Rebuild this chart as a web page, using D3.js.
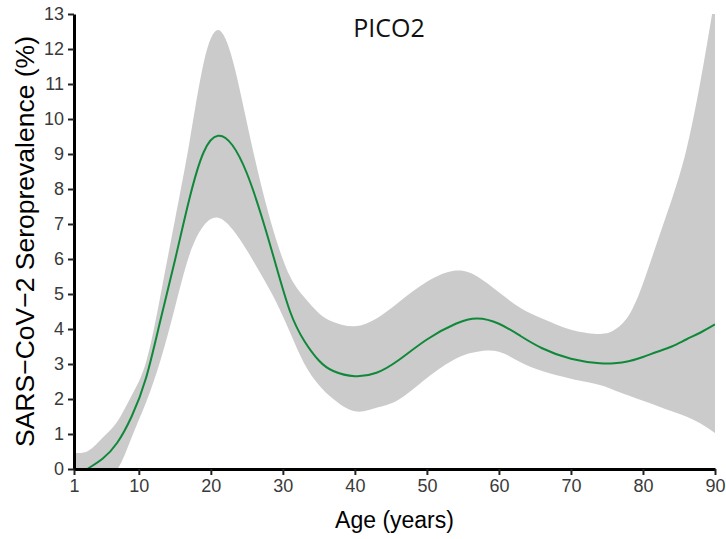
<!DOCTYPE html>
<html><head><meta charset="utf-8">
<script src="https://cdn.jsdelivr.net/npm/d3@7"></script>
<style>body{margin:0;background:#fff}</style>
</head><body>
<script>
const ages   = [1,3,5,7,9,11,13,15,17,19,21,23,25,27,29,31,33,35,37,40,43,46,50,54,57,60,63,66,70,74,76,78,80,82,84,86,88,90];
const meanV  = [-0.25,0.02,0.3,0.75,1.5,2.6,4.25,5.95,7.7,9.05,9.52,9.25,8.45,7.25,5.85,4.5,3.65,3.1,2.8,2.65,2.75,3.1,3.7,4.15,4.3,4.15,3.8,3.45,3.15,3.02,3.02,3.08,3.2,3.35,3.5,3.7,3.9,4.13];
const upperV = [0.46,0.52,0.9,1.35,2.1,3.05,4.95,7.1,9.3,11.6,12.54,11.7,9.9,8.1,6.6,5.5,4.9,4.45,4.2,4.08,4.3,4.75,5.35,5.67,5.5,5.05,4.6,4.3,3.98,3.86,3.97,4.38,5.3,6.5,7.7,9.1,11.1,13.5];
const lowerV = [-1.2,-0.8,-0.35,-0.02,0.9,1.9,3.1,4.6,6.1,6.95,7.18,6.85,6.25,5.55,4.8,3.9,3.0,2.4,2.0,1.65,1.75,1.97,2.6,3.15,3.35,3.35,3.05,2.8,2.58,2.4,2.25,2.1,1.95,1.8,1.65,1.5,1.3,1.03];
const xTicks = [1,10,20,30,40,50,60,70,80,90];
const yTicks = [0,1,2,3,4,5,6,7,8,9,10,11,12,13];
const title = "PICO2";
const xLabel = "Age (years)";
const yLabel = "SARS\u2212CoV\u22122 Seroprevalence (%)";

const W = 726, H = 539;
const m = {l:74, r:11, t:14, b:70};
const svg = d3.select("body").append("svg").attr("width", W).attr("height", H);
const x = d3.scaleLinear().domain([1,90]).range([m.l, W - m.r]);
const y = d3.scaleLinear().domain([0,13]).range([H - m.b, m.t]);

svg.append("clipPath").attr("id","clip").append("rect")
  .attr("x", x(1)).attr("y", y(13)).attr("width", x(90)-x(1)).attr("height", y(0)-y(13));

const data = ages.map((a,i)=>({a, m:meanV[i], u:upperV[i], l:lowerV[i]}));
const curve = d3.curveNatural;
const g = svg.append("g").attr("clip-path","url(#clip)");
g.append("path").datum(data)
  .attr("d", d3.area().x(d=>x(d.a)).y0(d=>y(d.l)).y1(d=>y(d.u)).curve(curve))
  .attr("fill", "#cbcbcb");
g.append("path").datum(data)
  .attr("d", d3.line().x(d=>x(d.a)).y(d=>y(d.m)).curve(curve))
  .attr("fill","none").attr("stroke","#10883a").attr("stroke-width",2);

const font = "Liberation Sans, Arial, sans-serif";
const xa = svg.append("g").attr("transform",`translate(0,${y(0)})`)
  .call(d3.axisBottom(x).tickValues(xTicks).tickSize(6).tickPadding(4).tickSizeOuter(0));
const ya = svg.append("g").attr("transform",`translate(${x(1)},0)`)
  .call(d3.axisLeft(y).tickValues(yTicks).tickSize(6).tickPadding(4).tickSizeOuter(0));
[xa,ya].forEach(a=>{
  a.select(".domain").attr("stroke","#000").attr("stroke-width",3);
  a.selectAll(".tick line").attr("stroke","#222").attr("stroke-width",2);
  a.selectAll(".tick text").attr("fill","#3a3a3a").style("font-family",font).style("font-size","18px");
});

svg.append("text").attr("x", (x(1)+x(90))/2).attr("y", 528)
  .attr("text-anchor","middle").style("font-family",font).style("font-size","23px").attr("fill","#000")
  .text(xLabel);
svg.append("text").attr("transform",`translate(34,${(y(0)+y(13))/2}) rotate(-90)`)
  .attr("text-anchor","middle").style("font-family",font).style("font-size","26.5px").attr("fill","#000")
  .text(yLabel);
svg.append("text").attr("x", 389).attr("y", 37)
  .attr("text-anchor","middle").style("font-family","Open Sans, sans-serif").style("font-size","25px").attr("fill","#111")
  .text(title);
</script>
</body></html>
